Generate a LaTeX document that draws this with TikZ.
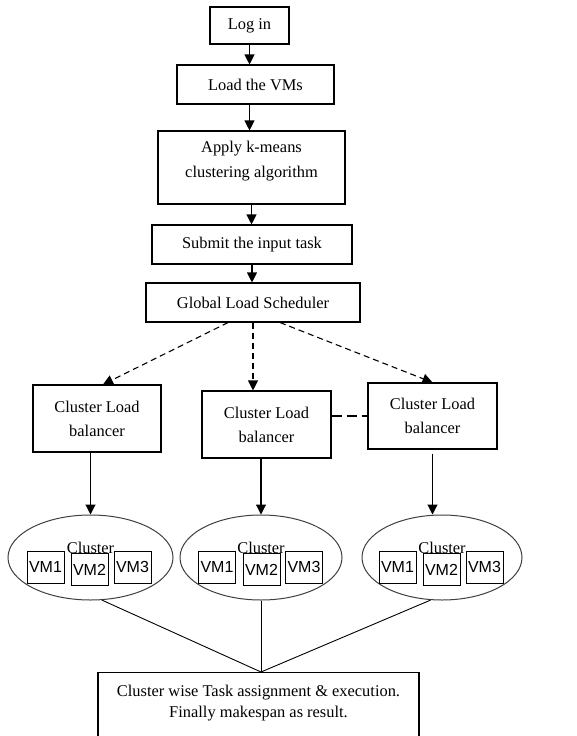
\documentclass[tikz,border=0pt]{standalone}
\usepackage{fontspec}
\setmainfont{Liberation Serif}
\setsansfont{Liberation Sans}
\usetikzlibrary{shapes.geometric,arrows.meta}

\newcommand{\boxfont}{\fontsize{16.4}{24}\selectfont}
\newcommand{\vmfont}{\sffamily\fontsize{16}{18}\selectfont}

\tikzset{
  stepbox/.style={rectangle, draw, line width=1.1pt, font=\boxfont, align=center, inner sep=2pt},
  toptext/.style={anchor=north, align=center, font=\boxfont},
  clusterell/.style={ellipse, draw=black!75, line width=1pt, minimum width=#1, minimum height=85pt, inner sep=0pt},
  vmbox/.style={rectangle, draw, line width=0.9pt, font=\vmfont, minimum width=37pt, minimum height=32pt, inner sep=0.5pt},
  flow/.style={line width=1.1pt, -{Triangle[width=10pt,length=10pt]}},
  dashflow/.style={flow, dash pattern=on 6pt off 4pt},
  joinline/.style={line width=0.9pt}
}

\begin{document}
\begin{tikzpicture}[x=1pt, y=-1pt]
  \clip (0,0) rectangle (576,736);
  \fill[white] (0,0) rectangle (576,736);

  % main column
  \node[stepbox, minimum width=79pt, minimum height=37pt] (login) at (249.5,25.5) {Log in};
  \node[stepbox, minimum width=157pt, minimum height=39pt] (loadvm) at (255.5,84.5) {Load the VMs};
  \node[stepbox, minimum width=187pt, minimum height=73pt,
        label={[toptext, yshift=-7pt]north:Apply k-means\\[1pt]clustering algorithm}] (kmeans) at (251.5,167.5) {};
  \node[stepbox, minimum width=200pt, minimum height=39pt] (submit) at (252,244.5) {Submit the input task};
  \node[stepbox, minimum width=214pt, minimum height=39pt] (global) at (253,302.5) {Global Load Scheduler};

  % cluster load balancers
  \node[stepbox, minimum width=128pt, minimum height=67pt] (clb1) at (97,418.5) {Cluster Load\\balancer};
  \node[stepbox, minimum width=129pt, minimum height=67pt] (clb2) at (266.5,424.5) {Cluster Load\\balancer};
  \node[stepbox, minimum width=129pt, minimum height=66pt] (clb3) at (432.5,416) {Cluster Load\\balancer};

  % clusters
  \node[clusterell=165pt, label={[font=\boxfont, yshift=10pt]center:Cluster}] (cl1) at (90.5,557.5) {};
  \node[clusterell=162pt, label={[font=\boxfont, yshift=10pt]center:Cluster}] (cl2) at (261,557.5) {};
  \node[clusterell=160pt, label={[font=\boxfont, yshift=10pt]center:Cluster}] (cl3) at (442,557.5) {};

  \node[vmbox] (cl1vm1) at (45.5,567) {VM1};
  \node[vmbox] (cl1vm2) at (89.5,569.5) {VM2};
  \node[vmbox] (cl1vm3) at (132.5,567) {VM3};
  \node[vmbox] (cl2vm1) at (217,567) {VM1};
  \node[vmbox] (cl2vm2) at (261.5,569.5) {VM2};
  \node[vmbox] (cl2vm3) at (304,567) {VM3};
  \node[vmbox] (cl3vm1) at (397.5,567) {VM1};
  \node[vmbox] (cl3vm2) at (441.5,569.5) {VM2};
  \node[vmbox] (cl3vm3) at (484.5,567) {VM3};

  % result
  \node[stepbox, minimum width=321pt, minimum height=80pt, anchor=north,
        label={[toptext, yshift=-10pt]north:Cluster wise Task assignment \& execution.\\[-3pt]Finally makespan as result.}] (final) at (258.5,672) {};
  \coordinate (meet) at (cl2.south |- final.north);

  % connectors
  \draw[flow] (login.south) -- (login.south |- loadvm.north);
  \draw[flow] (loadvm.south -| login.south) -- (kmeans.north -| login.south);
  \draw[flow] (kmeans.south) -- (kmeans.south |- submit.north);
  \draw[flow] (submit.south) -- (submit.south |- global.north);

  \draw[dashflow] ([xshift=-25pt]global.south) -- ([xshift=6pt]clb1.north);
  \draw[dashflow] (global.south) -- (global.south |- clb2.north);
  \draw[dashflow] ([xshift=27pt]global.south) -- (clb3.north);
  \draw[line width=1.1pt, dash pattern=on 10pt off 5pt] (clb2.east |- clb3.west) -- (clb3.west);

  \draw[flow] (cl1.north |- clb1.south) -- (cl1.north);
  \draw[flow] (clb2.south -| cl2.north) -- (cl2.north);
  \draw[flow, shorten <=4pt] (clb3.south) -- (clb3.south |- cl3.north);

  \draw[joinline] (cl1.-75) -- (meet);
  \draw[joinline] (cl2.south) -- (meet);
  \draw[joinline] (cl3.-105) -- (meet);
\end{tikzpicture}
\end{document}
